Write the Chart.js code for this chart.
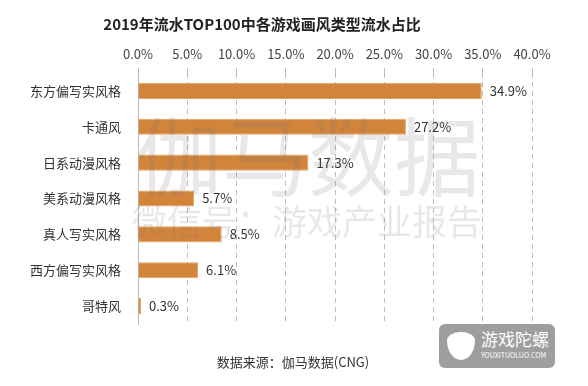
<!DOCTYPE html>
<html>
<head>
<meta charset="utf-8">
<script src="https://cdn.jsdelivr.net/npm/chart.js@4"></script>
<style>
  html, body { margin: 0; padding: 0; background: #fff; }
  #wrap { position: relative; width: 588px; height: 386px; }
  #logo {
    position: absolute; left: 439px; top: 324px; width: 116px; height: 44px;
    background: #9e9e9e; border-radius: 6px; color: #fff;
    font-family: "Noto Sans CJK SC", sans-serif;
  }
  #logo .ic { position: absolute; left: 8px; top: 8px; width: 28px; height: 28px; border-radius: 50% 50% 50% 50% / 30% 30% 70% 70%; background: #fff; }
  #logo .t1 { position: absolute; left: 42px; top: 4px; font-size: 17px; line-height: 22px; }
  #logo .t2 { position: absolute; left: 42px; top: 27px; font-size: 7px; line-height: 9px; }
</style>
</head>
<body>
<div id="wrap">
  <canvas id="myChart" width="588" height="386"></canvas>
  <div id="logo"><div class="ic"></div><div class="t1">游戏陀螺</div><div class="t2">YOUXITUOLUO.COM</div></div>
</div>
<script>
const categories = ["东方偏写实风格", "卡通风", "日系动漫风格", "美系动漫风格", "真人写实风格", "西方偏写实风格", "哥特风"];
const shares = [34.9, 27.2, 17.3, 5.7, 8.5, 6.1, 0.3];
const xTicks = [0, 5, 10, 15, 20, 25, 30, 35, 40];

const FONT = "'Noto Sans CJK SC', sans-serif";

// 标题、数据标签、水印、来源
const extras = {
  id: "extras",
  afterDatasetsDraw(chart) {
    const ctx = chart.ctx;
    const meta = chart.getDatasetMeta(0);
    ctx.save();
    ctx.fillStyle = "#333";
    ctx.font = "13px " + FONT;
    ctx.textAlign = "left";
    ctx.textBaseline = "middle";
    meta.data.forEach((bar, i) => {
      ctx.fillText(shares[i].toFixed(1) + "%", bar.x + 8, bar.y);
    });

    // 水印
    ctx.fillStyle = "rgba(120,120,120,0.17)";
    ctx.textAlign = "center";
    ctx.font = "86px " + FONT;
    ctx.fillText("伽马数据", 308, 157);
    ctx.font = "35px " + FONT;
    ctx.fillText("微信号：游戏产业报告", 307, 222);

    ctx.fillStyle = "#222";
    ctx.font = "bold 15px " + FONT;
    ctx.fillText("2019年流水TOP100中各游戏画风类型流水占比", 262, 24);
    ctx.fillStyle = "#333";
    ctx.font = "13px " + FONT;
    ctx.fillText("数据来源：伽马数据(CNG)", 293, 362);
    ctx.restore();
  }
};

new Chart(document.getElementById("myChart"), {
  type: "bar",
  data: {
    labels: categories,
    datasets: [{
      data: shares,
      backgroundColor: "#d2843a",
      borderColor: "#e4a261",
      borderWidth: 1,
      barPercentage: 0.45,
      categoryPercentage: 1
    }]
  },
  plugins: [extras],
  options: {
    indexAxis: "y",
    responsive: false,
    animation: false,
    layout: { padding: { top: 43, bottom: 62, left: 10, right: 56 } },
    plugins: { legend: { display: false }, tooltip: { enabled: false } },
    scales: {
      x: {
        position: "top",
        min: 0,
        max: 40,
        afterBuildTicks: (s) => { s.ticks = xTicks.map(v => ({ value: v })); },
        afterFit: (s) => { s.height = 30; },
        ticks: {
          padding: 6,
          color: "#444",
          font: { size: 13, family: FONT },
          callback: (v) => Number(v).toFixed(1) + "%"
        },
        grid: {
          color: "#bdbdbd",
          tickLength: 5,
          tickColor: "#bdbdbd",
          borderDash: [5, 4]
        },
        border: { display: false, dash: [5, 4] }
      },
      y: {
        afterFit: (s) => { s.width = 128; },
        ticks: {
          padding: 9,
          color: "#333",
          font: { size: 13, family: FONT }
        },
        grid: { display: false },
        border: { display: true, color: "#bbb" }
      }
    }
  }
});
</script>
</body>
</html>
